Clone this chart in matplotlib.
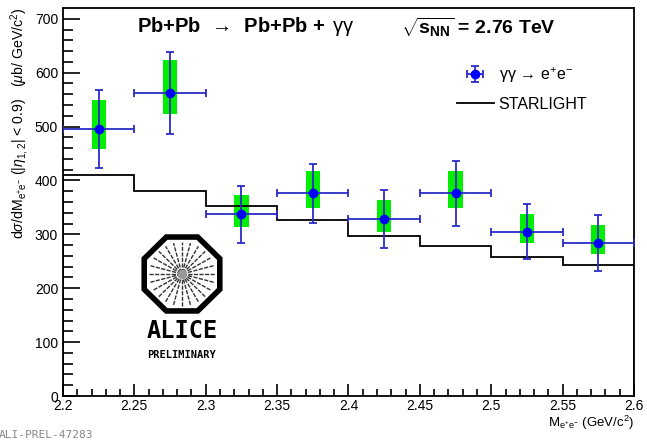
import numpy as np
import matplotlib
matplotlib.use("Agg")
import matplotlib.pyplot as plt
from matplotlib.patches import RegularPolygon
from matplotlib.lines import Line2D

plt.rcParams['font.family'] = ['Liberation Sans', 'DejaVu Sans']
plt.rcParams['mathtext.fontset'] = 'custom'
plt.rcParams['mathtext.rm'] = 'Liberation Sans'
plt.rcParams['mathtext.it'] = 'Liberation Sans:italic'
plt.rcParams['mathtext.bf'] = 'Liberation Sans:bold'

# Data
mass_centres = [2.225, 2.275, 2.325, 2.375, 2.425, 2.475, 2.525, 2.575]
mass_halfwidth = [0.025] * 8
cross_section = [495, 563, 337, 376, 328, 376, 305, 284]
stat_err = [72, 76, 53, 55, 54, 61, 51, 52]
sys_lo = [36, 40, 24, 28, 24, 28, 21, 21]
sys_hi = [54, 61, 36, 41, 36, 41, 33, 34]

starlight_edges = [2.2, 2.25, 2.3, 2.35, 2.4, 2.45, 2.5, 2.55, 2.6]
starlight_vals = [410, 381, 352, 326, 296, 279, 258, 243]

fig = plt.figure(figsize=(6.47, 4.43), dpi=100)
ax = fig.add_axes([63/647, 47/443, 571/647, 388/443])

# systematic boxes
bottoms = np.array(cross_section) - np.array(sys_lo)
heights = np.array(sys_lo) + np.array(sys_hi)
ax.bar(mass_centres, heights, bottom=bottoms, width=0.01, color='#00ee00', zorder=1)

# STARLIGHT step
ax.stairs(starlight_vals, starlight_edges, color='black', linewidth=1.3, zorder=2)

# data points
eb = ax.errorbar(mass_centres, cross_section, xerr=mass_halfwidth, yerr=stat_err,
                 fmt='o', color='blue', ecolor='#2b2bc8', elinewidth=1.3, capsize=3,
                 capthick=1.3, markersize=6, zorder=3)

ax.set_xlim(2.2, 2.6)
ax.set_ylim(0, 720)
ax.set_xticks(np.arange(2.2, 2.601, 0.05))
ax.set_xticklabels(['2.2', '2.25', '2.3', '2.35', '2.4', '2.45', '2.5', '2.55', '2.6'])
ax.set_xticks(np.arange(2.2, 2.601, 0.01), minor=True)
ax.set_yticks(np.arange(0, 701, 100))
ax.set_yticks(np.arange(0, 720, 20), minor=True)
ax.tick_params(axis='both', which='both', direction='in', labelsize=10, colors='black')
ax.tick_params(axis='y', which='major', length=12, width=1.2)
ax.tick_params(axis='y', which='minor', length=7, width=1.2)
ax.tick_params(axis='x', which='major', length=9, width=1.2, pad=2)
ax.tick_params(axis='x', which='minor', length=5, width=1.2)
for s in ax.spines.values():
    s.set_linewidth(1.3)

star_handle = Line2D([0], [0], color='black', linewidth=1.3)
ax.legend([eb, star_handle],
          [r'$\mathrm{\gamma\gamma}\,\rightarrow\,$e$^{+}$e$^{-}$', 'STARLIGHT'],
          loc='upper left', bbox_to_anchor=(0.665, 0.89), frameon=False, fontsize=11.5,
          handlelength=2.3, labelspacing=0.75, handletextpad=0.3)

# header text
fig.text(137/647, 1 - 27/443, r'Pb+Pb $\,\rightarrow\,$ Pb+Pb + $\,\mathrm{\gamma\gamma}$',
         fontsize=14.5, fontweight='bold', va='center', ha='left')
fig.text(401/647, 1 - 27/443, r'$\sqrt{\mathbf{s}_{\mathbf{NN}}}$ = 2.76 TeV',
         fontsize=14, fontweight='bold', va='center', ha='left')

# axis titles
fig.text(20/647, 1 - 8/443,
         r'd$\sigma$/dM$_{\rm e^{+}e^{-}}$ (|$\eta_{1,2}$| < 0.9)   ($\mu$b/ GeV/c$^{2}$)',
         rotation=90, fontsize=10.2, ha='center', va='top')
fig.text(634/647, 1 - 423/443, r'M$_{\rm e^{+}e^{-}}$ (GeV/c$^{2}$)',
         fontsize=9.5, ha='right', va='center')

fig.text(-1/647, 1 - 435/443, 'ALI-PREL-47283', fontsize=8, family='DejaVu Sans Mono',
         color='#888888', va='center', ha='left')

# ALICE logo
lax = fig.add_axes([137/647, 1 - 318/443, 90/647, 88/443])
lax.set_xlim(-1.1, 1.1)
lax.set_ylim(-1.1, 1.1)
lax.axis('off')
octo = RegularPolygon((0, 0), numVertices=8, radius=1.0, orientation=np.pi/8,
                      facecolor='white', edgecolor='black', linewidth=4)
lax.add_patch(octo)
for ang in np.linspace(0, np.pi, 13)[:-1]:
    dx, dy = np.cos(ang) * 0.8, np.sin(ang) * 0.8
    lax.plot([-dx, dx], [-dy, dy], color='#333333', linewidth=1.0, linestyle=(0, (3, 1)))
lax.plot([0], [0], 'o', color='#999999', markersize=6)
fig.text(182/647, 1 - 331/443, 'ALICE', fontsize=17, fontweight='bold',
         family='DejaVu Sans Mono', ha='center', va='center')
fig.text(182/647, 1 - 355/443, 'PRELIMINARY', fontsize=7.5, fontweight='bold',
         family='DejaVu Sans Mono', ha='center', va='center')

fig.savefig('out.png', dpi=100)
